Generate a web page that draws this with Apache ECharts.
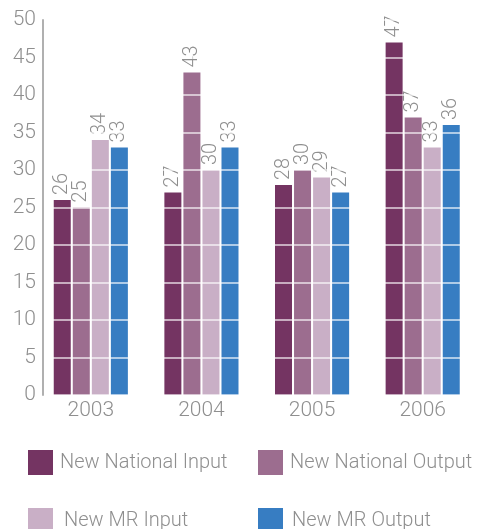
<!DOCTYPE html>
<html>
<head>
<meta charset="utf-8">
<script src="https://cdn.jsdelivr.net/npm/echarts@6/dist/echarts.min.js"></script>
<style>
  html, body { margin: 0; padding: 0; background: #fff; }
  #chart { width: 478px; height: 529px; }
</style>
</head>
<body>
<div id="chart"></div>
<script>
const years = ["2003", "2004", "2005", "2006"];
const seriesNames = ["New National Input", "New National Output", "New MR Input", "New MR Output"];
const nationalInput = [26, 27, 28, 47];
const nationalOutput = [25, 43, 30, 37];
const mrInput = [34, 30, 29, 33];
const mrOutput = [33, 33, 27, 36];
const colors = ["#743462", "#9c6d8f", "#c9afc6", "#377dc2"];

const FONT = "Roboto";
const GREY = "#8f8f8f";

function initChart() {
  var dom = document.getElementById("chart");
  var myChart = echarts.init(dom, null, { renderer: "canvas" });

  const values = [nationalInput, nationalOutput, mrInput, mrOutput];

  // 图例：四个独立位置，第二行文字略高于色块
  const legendPos = [
    { left: 28, top: 450, pad: [0, 0, 0, 2] },
    { left: 258, top: 450, pad: [0, 0, 0, 2] },
    { left: 28, top: 508, pad: [0, 0, 14, 6] },
    { left: 258, top: 508, pad: [0, 0, 14, 4] },
  ];
  const legends = seriesNames.map((name, i) => ({
    data: [name],
    left: legendPos[i].left,
    top: legendPos[i].top,
    padding: 0,
    itemWidth: 25,
    itemHeight: 25,
    itemGap: 0,
    icon: "rect",
    selectedMode: false,
    textStyle: { color: GREY, fontSize: 20, fontFamily: FONT, fontWeight: 300, padding: legendPos[i].pad },
  }));

  const option = {
    animation: false,
    color: colors,
    legend: legends,
    grid: { left: 35.5, top: 20, width: 452, height: 375 },
    xAxis: {
      type: "category",
      data: years,
      axisLine: { show: false },
      axisTick: { show: false },
      axisLabel: { color: GREY, fontSize: 21, fontFamily: FONT, fontWeight: 300, margin: 5 },
    },
    yAxis: {
      type: "value",
      min: 0,
      max: 50,
      interval: 5,
      offset: -7.5,
      z: 10,
      axisLine: { show: true, lineStyle: { color: "#b0b0b0", width: 2 } },
      axisTick: { show: false },
      axisLabel: { color: GREY, fontSize: 21, fontFamily: FONT, fontWeight: 300, margin: 7 },
      splitLine: { show: true, lineStyle: { color: "rgba(255,255,255,0.8)", width: 1.5 } },
    },
    series: seriesNames.map((name, i) => ({
      name,
      type: "bar",
      data: values[i],
      barWidth: 17,
      barGap: "12%",
      itemStyle: { color: colors[i] },
      label: {
        show: true,
        position: "top",
        rotate: 90,
        align: "left",
        verticalAlign: "middle",
        distance: 5,
        color: GREY,
        fontSize: 20,
        fontFamily: FONT,
        fontWeight: 300,
      },
    })),
  };

  myChart.setOption(option);
}

document.addEventListener("DOMContentLoaded", initChart);
</script>
</body>
</html>
